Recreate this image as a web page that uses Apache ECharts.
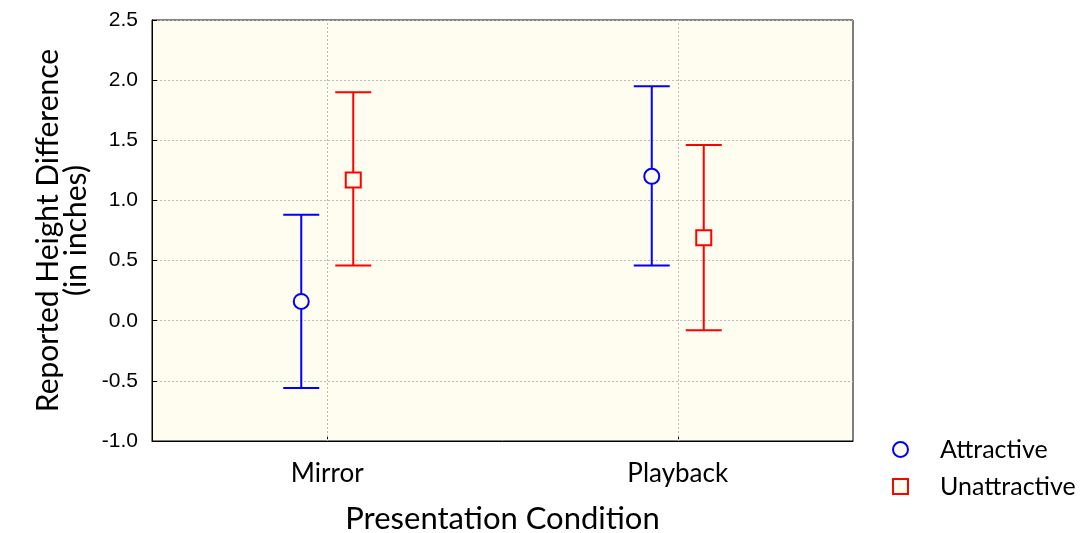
<!DOCTYPE html>
<html>
<head>
<meta charset="utf-8">
<script src="https://cdn.jsdelivr.net/npm/echarts@6/dist/echarts.min.js"></script>
<style>
  html, body { margin: 0; padding: 0; background: #fff; }
  #chart { width: 1088px; height: 533px; }
</style>
</head>
<body>
<div id="chart"></div>
<script>
var categories = ['Mirror', 'Playback'];
var attractiveMean = [0.16, 1.20];
var attractiveLow = [-0.56, 0.46];
var attractiveHigh = [0.88, 1.95];
var unattractiveMean = [1.17, 0.69];
var unattractiveLow = [0.46, -0.08];
var unattractiveHigh = [1.90, 1.46];

var blue = '#0000FF';
var red = '#FF0000';
var plotBg = '#FFFCF0';
var groupOffset = 26;

function barData(low, high) {
    return categories.map(function (c, i) { return [i, low[i], high[i]]; });
}

function errorBars(offset, color) {
    return function (params, api) {
        var lo = api.coord([api.value(0), api.value(1)]);
        var hi = api.coord([api.value(0), api.value(2)]);
        var x = lo[0] + offset;
        var half = 18;
        var style = { stroke: color, lineWidth: 2 };
        return {
            type: 'group',
            children: [
                { type: 'line', shape: { x1: x, y1: hi[1], x2: x, y2: lo[1] }, style: style },
                { type: 'line', shape: { x1: x - half, y1: hi[1], x2: x + half, y2: hi[1] }, style: style },
                { type: 'line', shape: { x1: x - half, y1: lo[1], x2: x + half, y2: lo[1] }, style: style }
            ]
        };
    };
}

var chart = echarts.init(document.getElementById('chart'));

var option = {
    animation: false,
    backgroundColor: '#fff',
    grid: {
        left: 152, right: 235, top: 20, bottom: 92,
        outerBoundsMode: 'none',
        show: true, backgroundColor: plotBg, borderColor: '#000', borderWidth: 1
    },
    legend: {
        data: [
            { name: 'Attractive', icon: 'circle' },
            { name: 'Unattractive', icon: 'rect' }
        ],
        orient: 'vertical',
        left: 887,
        top: 432,
        itemWidth: 15,
        itemHeight: 15,
        itemGap: 12,
        textStyle: { fontFamily: 'Lato', fontSize: 25, color: '#000', padding: [0, 0, 0, 27] }
    },
    xAxis: {
        type: 'category',
        data: categories,
        name: 'Presentation Condition',
        nameLocation: 'middle',
        nameGap: 62,
        nameTextStyle: { fontFamily: 'Lato', fontSize: 31, color: '#000' },
        axisLine: { show: true, onZero: false, lineStyle: { color: '#000', width: 1 } },
        axisTick: { show: true, inside: true, alignWithLabel: true, length: 5, lineStyle: { color: '#000' } },
        axisLabel: { fontFamily: 'Lato', fontSize: 26, color: '#000', margin: 20 },
        splitLine: { show: false }
    },
    yAxis: {
        type: 'value',
        min: -1.0,
        max: 2.5,
        interval: 0.5,
        name: 'Reported Height Difference\n(in inches)',
        nameLocation: 'middle',
        nameGap: 61,
        nameTextStyle: { fontFamily: 'Lato', fontSize: 30, color: '#000', lineHeight: 28 },
        axisLine: { show: true, lineStyle: { color: '#000', width: 1 } },
        axisTick: { show: true, inside: true, length: 5, lineStyle: { color: '#000' } },
        axisLabel: {
            fontFamily: 'Liberation Sans', fontSize: 21, color: '#000', margin: 14,
            formatter: function (v) { return v.toFixed(1); }
        },
        splitLine: { show: true, lineStyle: { color: '#bbb', type: [2, 2], width: 1 } }
    },
    series: [
        {
            name: 'gridX',
            type: 'scatter',
            data: [],
            silent: true,
            z: 1,
            markLine: {
                symbol: 'none',
                silent: true,
                label: { show: false },
                lineStyle: { color: '#bbb', type: [2, 2], width: 1 },
                data: categories.map(function (c) { return { xAxis: c }; })
            }
        },
        {
            type: 'custom',
            name: 'attractiveBars',
            renderItem: errorBars(-groupOffset, blue),
            data: barData(attractiveLow, attractiveHigh),
            z: 2
        },
        {
            type: 'custom',
            name: 'unattractiveBars',
            renderItem: errorBars(groupOffset, red),
            data: barData(unattractiveLow, unattractiveHigh),
            z: 2
        },
        {
            name: 'Attractive',
            type: 'scatter',
            symbol: 'circle',
            symbolSize: 15,
            symbolOffset: [-groupOffset, 0],
            itemStyle: { color: plotBg, borderColor: blue, borderWidth: 2, opacity: 1 },
            data: attractiveMean.map(function (v, i) { return [i, v]; }),
            z: 3
        },
        {
            name: 'Unattractive',
            type: 'scatter',
            symbol: 'rect',
            symbolSize: 15,
            symbolOffset: [groupOffset, 0],
            itemStyle: { color: plotBg, borderColor: red, borderWidth: 2, opacity: 1 },
            data: unattractiveMean.map(function (v, i) { return [i, v]; }),
            z: 3
        }
    ]
};

chart.setOption(option);
</script>
</body>
</html>
